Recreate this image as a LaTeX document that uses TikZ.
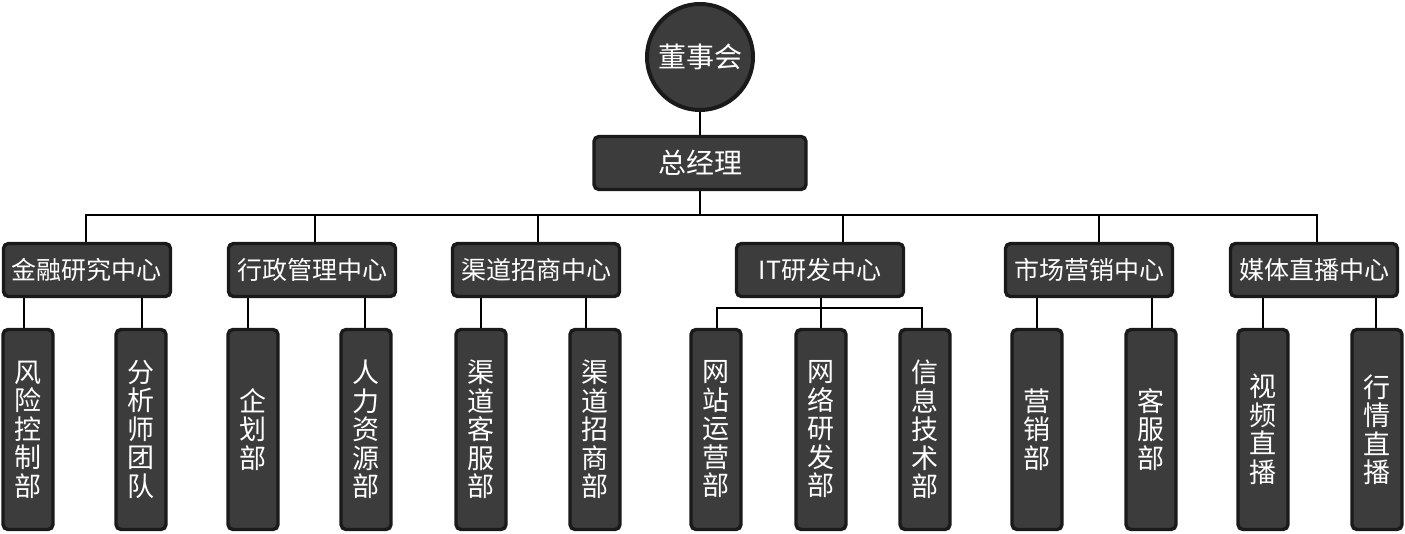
\documentclass[tikz,border=0pt]{standalone}
\usepackage{fontspec}
\newfontfamily\cjk{Noto Sans CJK SC}
\definecolor{fillc}{HTML}{3C3C3C}
\definecolor{bordc}{HTML}{1A1A1A}
\begin{document}
\begin{tikzpicture}[x=1pt,y=-1pt,
  base/.style={draw=bordc, fill=fillc, line width=3.4pt, text=white, inner sep=0pt, font=\cjk},
  box/.style={base, rounded corners=5pt},
  topbox/.style={box, minimum width=212pt, minimum height=53pt, font=\cjk\fontsize{28}{30}\selectfont},
  midbox/.style={box, minimum width=167pt, minimum height=53pt, font=\cjk\fontsize{25}{28}\selectfont},
  leaf/.style={box, minimum width=50pt, minimum height=200pt, align=center, font=\cjk\fontsize{27}{28.5}\selectfont},
  board/.style={base, circle, line width=4pt, minimum size=106pt, font=\cjk\fontsize{28}{30}\selectfont},
  conn/.style={line width=1.8pt, draw=black}]
\useasboundingbox (0,0) rectangle (1405,534);
% top
\node[board] (bd) at (700,57) {董事会};
\node[topbox] (gm) at (700,163) {总经理};
% centers
\node[midbox] (c1) at (87,270) {金融研究中心};
\node[midbox] (c2) at (312,270) {行政管理中心};
\node[midbox] (c3) at (536,270) {渠道招商中心};
\node[midbox] (c4) at (820,270) {IT研发中心};
\node[midbox] (c5) at (1089,270) {市场营销中心};
\node[midbox] (c6) at (1314,270) {媒体直播中心};
% leaves
\node[leaf] (l1) at (28,429.5) {风\\险\\控\\制\\部};
\node[leaf] (l2) at (141,429.5) {分\\析\\师\\团\\队};
\node[leaf] (l3) at (253,429.5) {企\\划\\部};
\node[leaf] (l4) at (366,429.5) {人\\力\\资\\源\\部};
\node[leaf] (l5) at (481,429.5) {渠\\道\\客\\服\\部};
\node[leaf] (l6) at (595,429.5) {渠\\道\\招\\商\\部};
\node[leaf] (l7) at (716,429.5) {网\\站\\运\\营\\部};
\node[leaf] (l8) at (821,429.5) {网\\络\\研\\发\\部};
\node[leaf] (l9) at (925,429.5) {信\\息\\技\\术\\部};
\node[leaf] (l10) at (1037,429.5) {营\\销\\部};
\node[leaf] (l11) at (1151,429.5) {客\\服\\部};
\node[leaf] (l12) at (1263,429.5) {视\\频\\直\\播};
\node[leaf] (l13) at (1377,429.5) {行\\情\\直\\播};
% connectors
\path (gm.south) ++(0,23.5) coordinate (bus);
\path (c4.south) ++(1,9.5) coordinate (itbus);
\draw[conn] (bd.south) -- (gm.north);
\draw[conn] (gm.south) -- (bus);
\draw[conn] ([xshift=-1pt]c1.north) |- (bus) -| ([xshift=3pt]c6.north);
\draw[conn] ([xshift=3pt]c2.north) -- ([xshift=3pt]c2.north |- bus);
\draw[conn] ([xshift=2pt]c3.north) -- ([xshift=2pt]c3.north |- bus);
\draw[conn] ([xshift=23pt]c4.north) -- ([xshift=23pt]c4.north |- bus);
\draw[conn] ([xshift=10pt]c5.north) -- ([xshift=10pt]c5.north |- bus);
\draw[conn] (c4.south -| itbus) -- (itbus);
\draw[conn] ([xshift=1pt]l7.north) |- (itbus) -| ([xshift=-3pt]l9.north);
\draw[conn] (itbus) -- (l8.north);
\draw[conn] ([xshift=-4pt]l1.north) -- ([xshift=-4pt]l1.north |- c1.south);
\draw[conn] ([xshift=1pt]l2.north) -- ([xshift=1pt]l2.north |- c1.south);
\draw[conn] ([xshift=-5pt]l3.north) -- ([xshift=-5pt]l3.north |- c2.south);
\draw[conn] ([xshift=-1pt]l4.north) -- ([xshift=-1pt]l4.north |- c2.south);
\draw[conn] (l5.north) -- (l5.north |- c3.south);
\draw[conn] ([xshift=-9pt]l6.north) -- ([xshift=-9pt]l6.north |- c3.south);
\draw[conn] (l10.north) -- (l10.north |- c5.south);
\draw[conn] ([xshift=1pt]l11.north) -- ([xshift=1pt]l11.north |- c5.south);
\draw[conn] (l12.north) -- (l12.north |- c6.south);
\draw[conn] ([xshift=-1pt]l13.north) -- ([xshift=-1pt]l13.north |- c6.south);
\end{tikzpicture}
\end{document}
